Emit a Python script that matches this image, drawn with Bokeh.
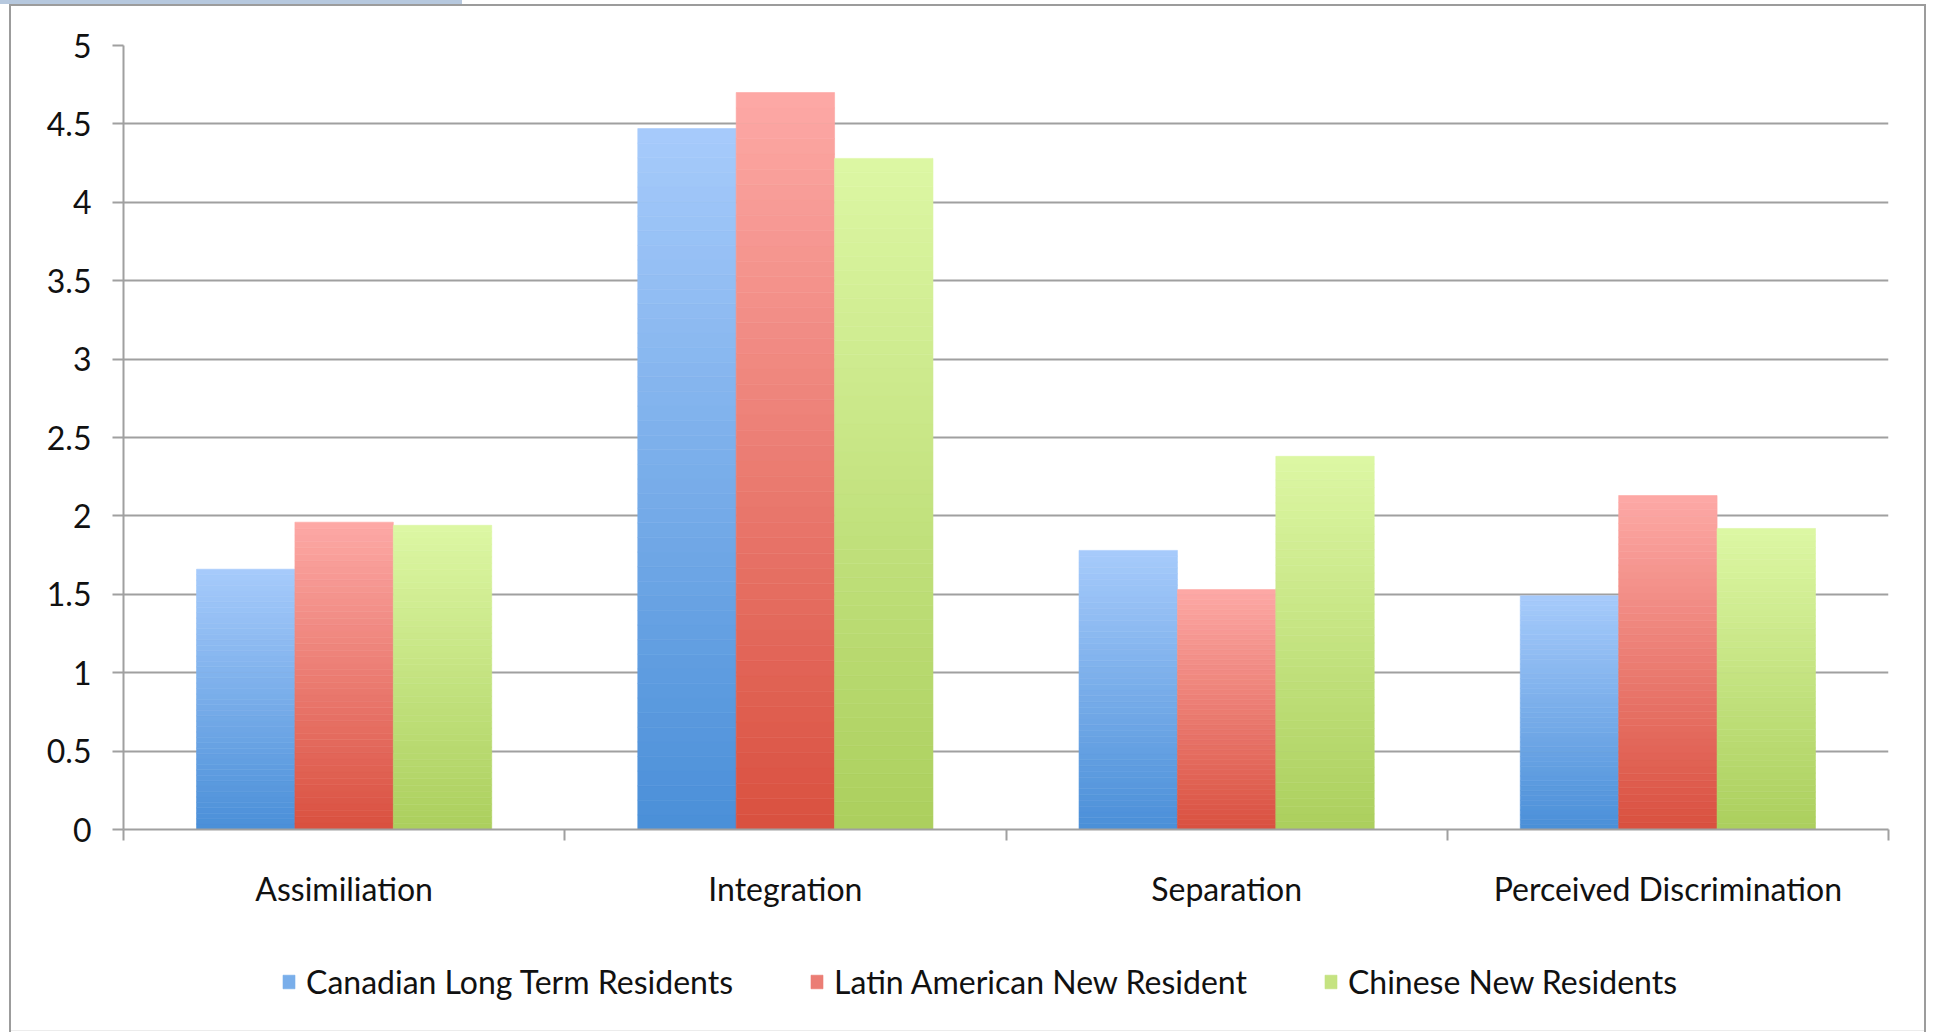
from bokeh.plotting import figure
from bokeh.layouts import column
from bokeh.models import ColumnDataSource, FixedTicker, Legend, LegendItem, Range1d
from bokeh.embed import file_html
from bokeh.resources import INLINE

# ---- data -----------------------------------------------------------------
categories = ["Assimiliation", "Integration", "Separation", "Perceived Discrimination"]
series_names = ["Canadian Long Term Residents", "Latin American New Resident",
                "Chinese New Residents"]
canadian = [1.66, 4.47, 1.78, 1.49]
latin_american = [1.96, 4.70, 1.53, 2.13]
chinese = [1.94, 4.28, 2.38, 1.92]
y_ticks = [0, 0.5, 1, 1.5, 2, 2.5, 3, 3.5, 4, 4.5, 5]
y_tick_labels = ["0", "0.5", "1", "1.5", "2", "2.5", "3", "3.5", "4", "4.5", "5"]

series_values = [canadian, latin_american, chinese]
# (top colour, bottom colour) of each series' vertical gradient
series_gradients = [("#a7cbfb", "#4a8fd8"),
                    ("#fda9a6", "#d9503f"),
                    ("#ddf7a4", "#abcf5d")]

FONT = "Lato"
FONT_SIZE = "32px"
TEXT_COLOR = "#111111"
GRAY = "#a0a0a0"
BAR_W = 0.223
STRIPS = 48
W, H_CHART, H_LEGEND = 1933, 940, 92


def hex_to_rgb(h):
    h = h.lstrip("#")
    return tuple(int(h[i:i + 2], 16) for i in (0, 2, 4))


def lerp_color(c_bottom, c_top, t):
    a, b = hex_to_rgb(c_bottom), hex_to_rgb(c_top)
    return "#%02x%02x%02x" % tuple(int(round(x + (y - x) * t)) for x, y in zip(a, b))


# each bar is a stack of thin strips shading from dark (bottom) to light (top)
sources = []
for k, (vals, (c_top, c_bot)) in enumerate(zip(series_values, series_gradients)):
    left, right, bottom, top, color = [], [], [], [], []
    for i, v in enumerate(vals):
        cx = i + 0.5 + (k - 1) * BAR_W
        for s in range(STRIPS):
            left.append(cx - BAR_W / 2)
            right.append(cx + BAR_W / 2)
            bottom.append(v * s / STRIPS)
            top.append(v * (s + 1) / STRIPS)
            color.append(lerp_color(c_bot, c_top, (s + 0.5) / STRIPS))
    sources.append(ColumnDataSource(dict(left=left, right=right, bottom=bottom,
                                         top=top, color=color)))

QUAD = dict(left="left", right="right", bottom="bottom", top="top",
            fill_color="color", line_color="color", line_width=0.6)

# ---- main chart -----------------------------------------------------------
p = figure(width=W, height=H_CHART, output_backend="svg", toolbar_location=None,
           x_range=Range1d(0, len(categories)), y_range=Range1d(0, 5),
           min_border_left=123, min_border_right=45, min_border_top=45,
           min_border_bottom=H_CHART - 829, background_fill_color="white",
           border_fill_color=None, outline_line_color=None)
for src in sources:
    p.quad(source=src, **QUAD)

xax = p.xaxis[0]
xax.ticker = FixedTicker(ticks=[i + 0.5 for i in range(len(categories))],
                         minor_ticks=list(range(len(categories) + 1)))
xax.major_label_overrides = {i + 0.5: c for i, c in enumerate(categories)}
xax.major_tick_line_color = None
xax.major_tick_out = 0
xax.major_tick_in = 0
xax.minor_tick_line_color = GRAY
xax.minor_tick_line_width = 2
xax.minor_tick_out = 11
xax.minor_tick_in = 0
xax.axis_line_color = GRAY
xax.axis_line_width = 2
xax.major_label_text_font = FONT
xax.major_label_text_font_size = FONT_SIZE
xax.major_label_text_color = TEXT_COLOR
xax.major_label_standoff = 28

yax = p.yaxis[0]
yax.ticker = FixedTicker(ticks=y_ticks)
yax.major_label_overrides = {t: l for t, l in zip(y_ticks, y_tick_labels)}
yax.major_tick_line_color = GRAY
yax.major_tick_line_width = 2
yax.major_tick_out = 11
yax.major_tick_in = 0
yax.minor_tick_line_color = None
yax.axis_line_color = GRAY
yax.axis_line_width = 2
yax.major_label_text_font = FONT
yax.major_label_text_font_size = FONT_SIZE
yax.major_label_text_color = TEXT_COLOR
yax.major_label_standoff = 21

p.xgrid.visible = False
p.ygrid.ticker = FixedTicker(ticks=y_ticks)
p.ygrid.grid_line_color = GRAY
p.ygrid.grid_line_width = 2

# ---- legend strip (same series, ranges chosen so only the key shows) ------
pl = figure(width=W, height=H_LEGEND, output_backend="svg", toolbar_location=None,
            x_range=Range1d(-10, -9), y_range=Range1d(0, 5),
            x_axis_type=None, y_axis_type=None,
            min_border_left=123, min_border_right=45, min_border_top=0,
            min_border_bottom=0, background_fill_color=None,
            border_fill_color=None, outline_line_color=None)
pl.xgrid.visible = False
pl.ygrid.visible = False
legend_items = []
for name, src in zip(series_names, sources):
    r = pl.quad(source=src, **QUAD)
    legend_items.append(LegendItem(label=name, renderers=[r], index=STRIPS // 2))

legend = Legend(items=legend_items, orientation="horizontal", location=(158, 31),
                label_text_font=FONT, label_text_font_size=FONT_SIZE,
                label_text_color=TEXT_COLOR, label_height=36,
                glyph_width=15, glyph_height=17,
                label_standoff=10, spacing=76, padding=0, margin=0,
                border_line_color=None, background_fill_alpha=0)
pl.add_layout(legend, "center")

# chart box: light tab strip at the top-left and a thin grey border
frame_css = {
    "background-color": "white",
    "background-image": ", ".join(["linear-gradient(#b6c8de, #b6c8de)"]
                                  + ["linear-gradient(#9c9c9c, #9c9c9c)"] * 3
                                  + ["linear-gradient(#ececec, #ececec)"]),
    "background-size": "462px 4px, 1917px 2px, 2px 1028px, 2px 1028px, 1917px 1px",
    "background-position": "0px 0px, 9px 4px, 9px 4px, 1924px 4px, 9px 1030px",
    "background-repeat": "no-repeat",
}
layout = column(p, pl, spacing=0, styles=frame_css)

open("out.html", "w").write(file_html(layout, INLINE))
